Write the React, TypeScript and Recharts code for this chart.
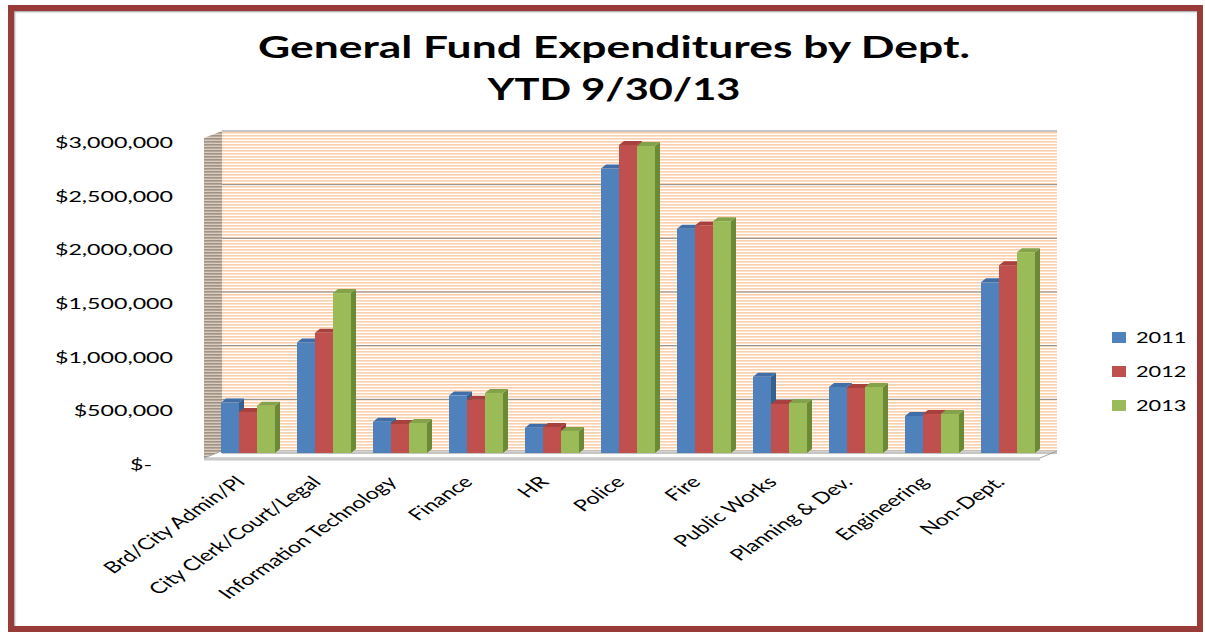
import { BarChart, Bar, XAxis, YAxis, CartesianGrid } from "recharts";

const departments = [
  "Brd/City Admin/Pl",
  "City Clerk/Court/Legal",
  "Information Technology",
  "Finance",
  "HR",
  "Police",
  "Fire",
  "Public Works",
  "Planning & Dev.",
  "Engineering",
  "Non-Dept.",
];

const fy2011 = [470000, 1030000, 290000, 535000, 235000, 2650000, 2090000, 710000, 615000, 345000, 1590000];
const fy2012 = [383000, 1120000, 270000, 495000, 243000, 2870000, 2120000, 457000, 606000, 363000, 1750000];
const fy2013 = [440000, 1490000, 280000, 560000, 206000, 2860000, 2160000, 466000, 615000, 363000, 1870000];

const yTicks = [0, 500000, 1000000, 1500000, 2000000, 2500000, 3000000];

const rows = departments.map((name, i) => ({
  name,
  y2011: fy2011[i],
  y2012: fy2012[i],
  y2013: fy2013[i],
}));

const series = [
  { key: "y2011", label: "2011", front: "#4f81bd", side: "#37608f", top: "#3f6ea8" },
  { key: "y2012", label: "2012", front: "#c0504d", side: "#8f3836", top: "#a8403d" },
  { key: "y2013", label: "2013", front: "#9bbb59", side: "#6b8a35", top: "#84a24a" },
];

const W = 1205;
const H = 634;
const TOP = 131;
const BOTTOM = 181;
const LEFT = 210;
const RIGHT = 159;
const STRETCH = 1.45; // the original picture is stretched sideways
const DEPTH = 5;
const RISE = 4;
const FONT = "Lato, 'Open Sans', sans-serif";

const money = (v: number) =>
  v === 0 ? "$-" : "$" + v.toLocaleString("en-US");

function Box3D(colors: { front: string; side: string; top: string }) {
  return (p: any) => {
    const { x, y, width: w, height: h } = p;
    if (!h || h <= 0) return <g />;
    return (
      <g>
        <polygon
          points={`${x + w},${y} ${x + w + DEPTH},${y - RISE} ${x + w + DEPTH},${y + h - RISE} ${x + w},${y + h}`}
          fill={colors.side}
        />
        <polygon
          points={`${x},${y} ${x + DEPTH},${y - RISE} ${x + w + DEPTH},${y - RISE} ${x + w},${y}`}
          fill={colors.top}
        />
        <rect x={x} y={y} width={w} height={h} fill={colors.front} />
      </g>
    );
  };
}

function YTick(props: any) {
  const { y, payload } = props;
  const zero = payload.value === 0;
  const x = 173 + (zero ? -21 : 0);
  return (
    <text
      transform={`translate(${x},${y + 17}) scale(${STRETCH},1)`}
      textAnchor="end"
      fontSize={16}
      fontFamily={FONT}
      fill="#000"
    >
      {money(payload.value)}
    </text>
  );
}

function XTick(props: any) {
  const { x, y, payload } = props;
  return (
    <text
      transform={`translate(${x - 2},${y + 22}) scale(${STRETCH},1) rotate(-45)`}
      textAnchor="end"
      fontSize={16}
      fontFamily={FONT}
      fill="#000"
    >
      {payload.value}
    </text>
  );
}

function LegendBox() {
  return (
    <div style={{ position: "absolute", left: 1112, top: 320, fontFamily: FONT }}>
      {series.map((s) => (
        <div key={s.key} style={{ display: "flex", alignItems: "center", height: 34 }}>
          <span style={{ width: 14, height: 11, background: s.front, display: "inline-block" }} />
          <span
            style={{
              marginLeft: 10,
              fontSize: 15,
              display: "inline-block",
              transform: `scaleX(${STRETCH})`,
              transformOrigin: "left center",
            }}
          >
            {s.label}
          </span>
        </div>
      ))}
    </div>
  );
}

export default function App() {
  const wallL = LEFT + 12;
  const wallR = W - RIGHT + 11;
  const base = H - BOTTOM;
  return (
    <div style={{ position: "absolute", left: 0, top: 0, width: W, height: H, background: "#fff", overflow: "hidden" }}>
      <svg width={W} height={H} style={{ position: "absolute", left: 0, top: 0 }}>
        <defs>
          <pattern id="wall" width="8" height="3" patternUnits="userSpaceOnUse">
            <rect width="8" height="3" fill="#ffffff" />
            <rect width="8" height="1.6" fill="#fbd0ad" />
          </pattern>
          <pattern id="sideWall" width="6" height="3" patternUnits="userSpaceOnUse">
            <rect width="6" height="3" fill="#d9cbbd" />
            <rect width="6" height="1.6" fill="#a09284" />
          </pattern>
        </defs>
        <polygon
          points={`${wallL - 18},${TOP + 7} ${wallL},${TOP} ${wallL},${base} ${wallL - 18},${base + 6}`}
          fill="url(#sideWall)"
        />
        <rect x={wallL} y={TOP} width={wallR - wallL} height={base - TOP} fill="url(#wall)" />
        <polygon
          points={`${wallL - 18},${base + 5} ${wallR - 17},${base + 5} ${wallR},${base - 2} ${wallL},${base - 2}`}
          fill="#ffffff"
          stroke="#a6a6a6"
          strokeWidth={1}
        />
        <line x1={wallL - 18} y1={base + 6.5} x2={wallR - 17} y2={base + 6.5} stroke="#c8c8c8" strokeWidth={2} />
      </svg>

      <BarChart
        width={W}
        height={H}
        data={rows}
        margin={{ top: TOP, right: RIGHT, bottom: 0, left: 0 }}
        barGap={0}
        barSize={18}
        style={{ position: "absolute", left: 0, top: 0 }}
      >
        <CartesianGrid
          x={wallL}
          width={wallR - wallL}
          vertical={false}
          stroke="#8a8a8a"
          strokeWidth={1}
        />
        <XAxis
          dataKey="name"
          interval={0}
          axisLine={false}
          tickLine={false}
          tick={<XTick />}
          height={BOTTOM}
        />
        <YAxis
          domain={[0, 3000000]}
          ticks={yTicks}
          width={LEFT}
          axisLine={false}
          tickLine={false}
          tick={<YTick />}
        />
        {series.map((s) => (
          <Bar
            key={s.key}
            dataKey={s.key}
            name={s.label}
            fill={s.front}
            shape={Box3D(s)}
            isAnimationActive={false}
          />
        ))}
      </BarChart>

      <LegendBox />

      <svg width={W} height={H} style={{ position: "absolute", left: 0, top: 0, pointerEvents: "none" }}>
        <text
          x={614}
          y={58}
          textAnchor="middle"
          fontSize={31}
          fontWeight={700}
          fontFamily={FONT}
          textLength={712}
          lengthAdjust="spacingAndGlyphs"
        >
          General Fund Expenditures by Dept.
        </text>
        <text
          x={614}
          y={100}
          textAnchor="middle"
          fontSize={31}
          fontWeight={700}
          fontFamily={FONT}
          textLength={253}
          lengthAdjust="spacingAndGlyphs"
        >
          YTD 9/30/13
        </text>
      </svg>

      <div
        style={{
          position: "absolute",
          left: 8,
          top: 5,
          width: 1195,
          height: 627,
          boxSizing: "border-box",
          border: "6px solid #983b39",
          boxShadow: "inset 1px 1px 2px #9a9a9a",
          pointerEvents: "none",
        }}
      />
    </div>
  );
}
